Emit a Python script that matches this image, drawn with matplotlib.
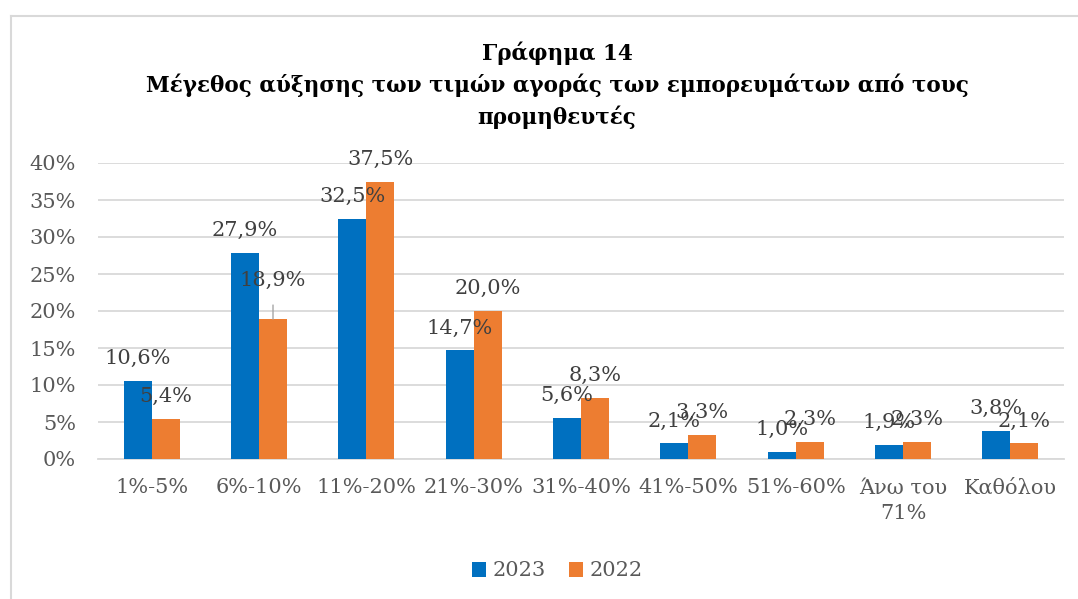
import matplotlib
matplotlib.use("Agg")
import matplotlib.pyplot as plt
from matplotlib.lines import Line2D
import numpy as np

categories = ["1%-5%", "6%-10%", "11%-20%", "21%-30%", "31%-40%", "41%-50%",
              "51%-60%", "Άνω του\n71%", "Καθόλου"]
series_names = ["2023", "2022"]
values_2023 = [10.6, 27.9, 32.5, 14.7, 5.6, 2.1, 1.0, 1.9, 3.8]
values_2022 = [5.4, 18.9, 37.5, 20.0, 8.3, 3.3, 2.3, 2.3, 2.1]
yticks = [0, 5, 10, 15, 20, 25, 30, 35, 40]
title = "Γράφημα 14\nΜέγεθος αύξησης των τιμών αγοράς των εμπορευμάτων από τους\nπρομηθευτές"

BLUE = "#0070C0"
ORANGE = "#ED7D31"
FONT = "DejaVu Serif"
FS = 15

W, H = 1078, 599
fig = plt.figure(figsize=(W / 100, H / 100), dpi=100)
ax = fig.add_axes([98 / W, 1 - 459 / H, (1064 - 98) / W, (459 - 163) / H])

x = np.arange(len(categories))
bw = 0.261
b1 = ax.bar(x - bw / 2, values_2023, bw, color=BLUE, label=series_names[0], zorder=3)
b2 = ax.bar(x + bw / 2, values_2022, bw, color=ORANGE, label=series_names[1], zorder=3)

ax.set_xlim(-0.5, len(categories) - 0.5)
ax.set_ylim(0, 40)
ax.set_yticks(yticks)
ax.set_yticklabels([f"{t}%" for t in yticks], fontsize=FS, color="#595959", family=FONT)
ax.set_xticks(x)
ax.set_xticklabels(categories, fontsize=FS, color="#595959", family=FONT, linespacing=1.45)
ax.tick_params(axis="y", length=0, pad=16)
ax.tick_params(axis="x", length=0, pad=14)
ax.grid(axis="y", color="#D9D9D9", linewidth=1.3, zorder=0)
for s in ["top", "right", "left"]:
    ax.spines[s].set_visible(False)
ax.spines["bottom"].set_color("#D9D9D9")
ax.spines["bottom"].set_linewidth(1.3)

def fmt(v):
    return f"{v:.1f}".replace(".", ",") + "%"

for bars, vals in ((b1, values_2023), (b2, values_2022)):
    for rect, v in zip(bars, vals):
        cx = rect.get_x() + rect.get_width() / 2
        if v == 18.9:
            ax.annotate(fmt(v), xy=(cx, v), xytext=(0, 28), textcoords="offset points",
                        ha="center", va="center", fontsize=FS, color="#404040", family=FONT,
                        arrowprops=dict(arrowstyle="-", color="#A6A6A6", lw=1,
                                        shrinkA=9, shrinkB=0), zorder=4)
        else:
            ax.annotate(fmt(v), xy=(cx, v), xytext=(0, 16), textcoords="offset points",
                        ha="center", va="center", fontsize=FS, color="#404040", family=FONT,
                        zorder=4)

fig.text(557 / W, 1 - 85 / H, title, ha="center", va="center", fontsize=15.5,
         fontweight="bold", family=FONT, linespacing=1.45, color="#000000")

leg = fig.legend(handles=[b1, b2], labels=series_names, loc="center",
                 bbox_to_anchor=(557 / W, 1 - 571 / H), ncol=2, frameon=False,
                 prop={"family": FONT, "size": FS}, handlelength=0.7, handleheight=0.7,
                 handletextpad=0.3, columnspacing=1.1)
for t in leg.get_texts():
    t.set_color("#595959")

fig.add_artist(Line2D([11 / W, 11 / W], [0, 1 - 16 / H], transform=fig.transFigure,
                      color="#D9D9D9", lw=1.5))
fig.add_artist(Line2D([11 / W, 1], [1 - 16 / H, 1 - 16 / H], transform=fig.transFigure,
                      color="#D9D9D9", lw=1.5))

fig.savefig("out.png", dpi=100, facecolor="white")
